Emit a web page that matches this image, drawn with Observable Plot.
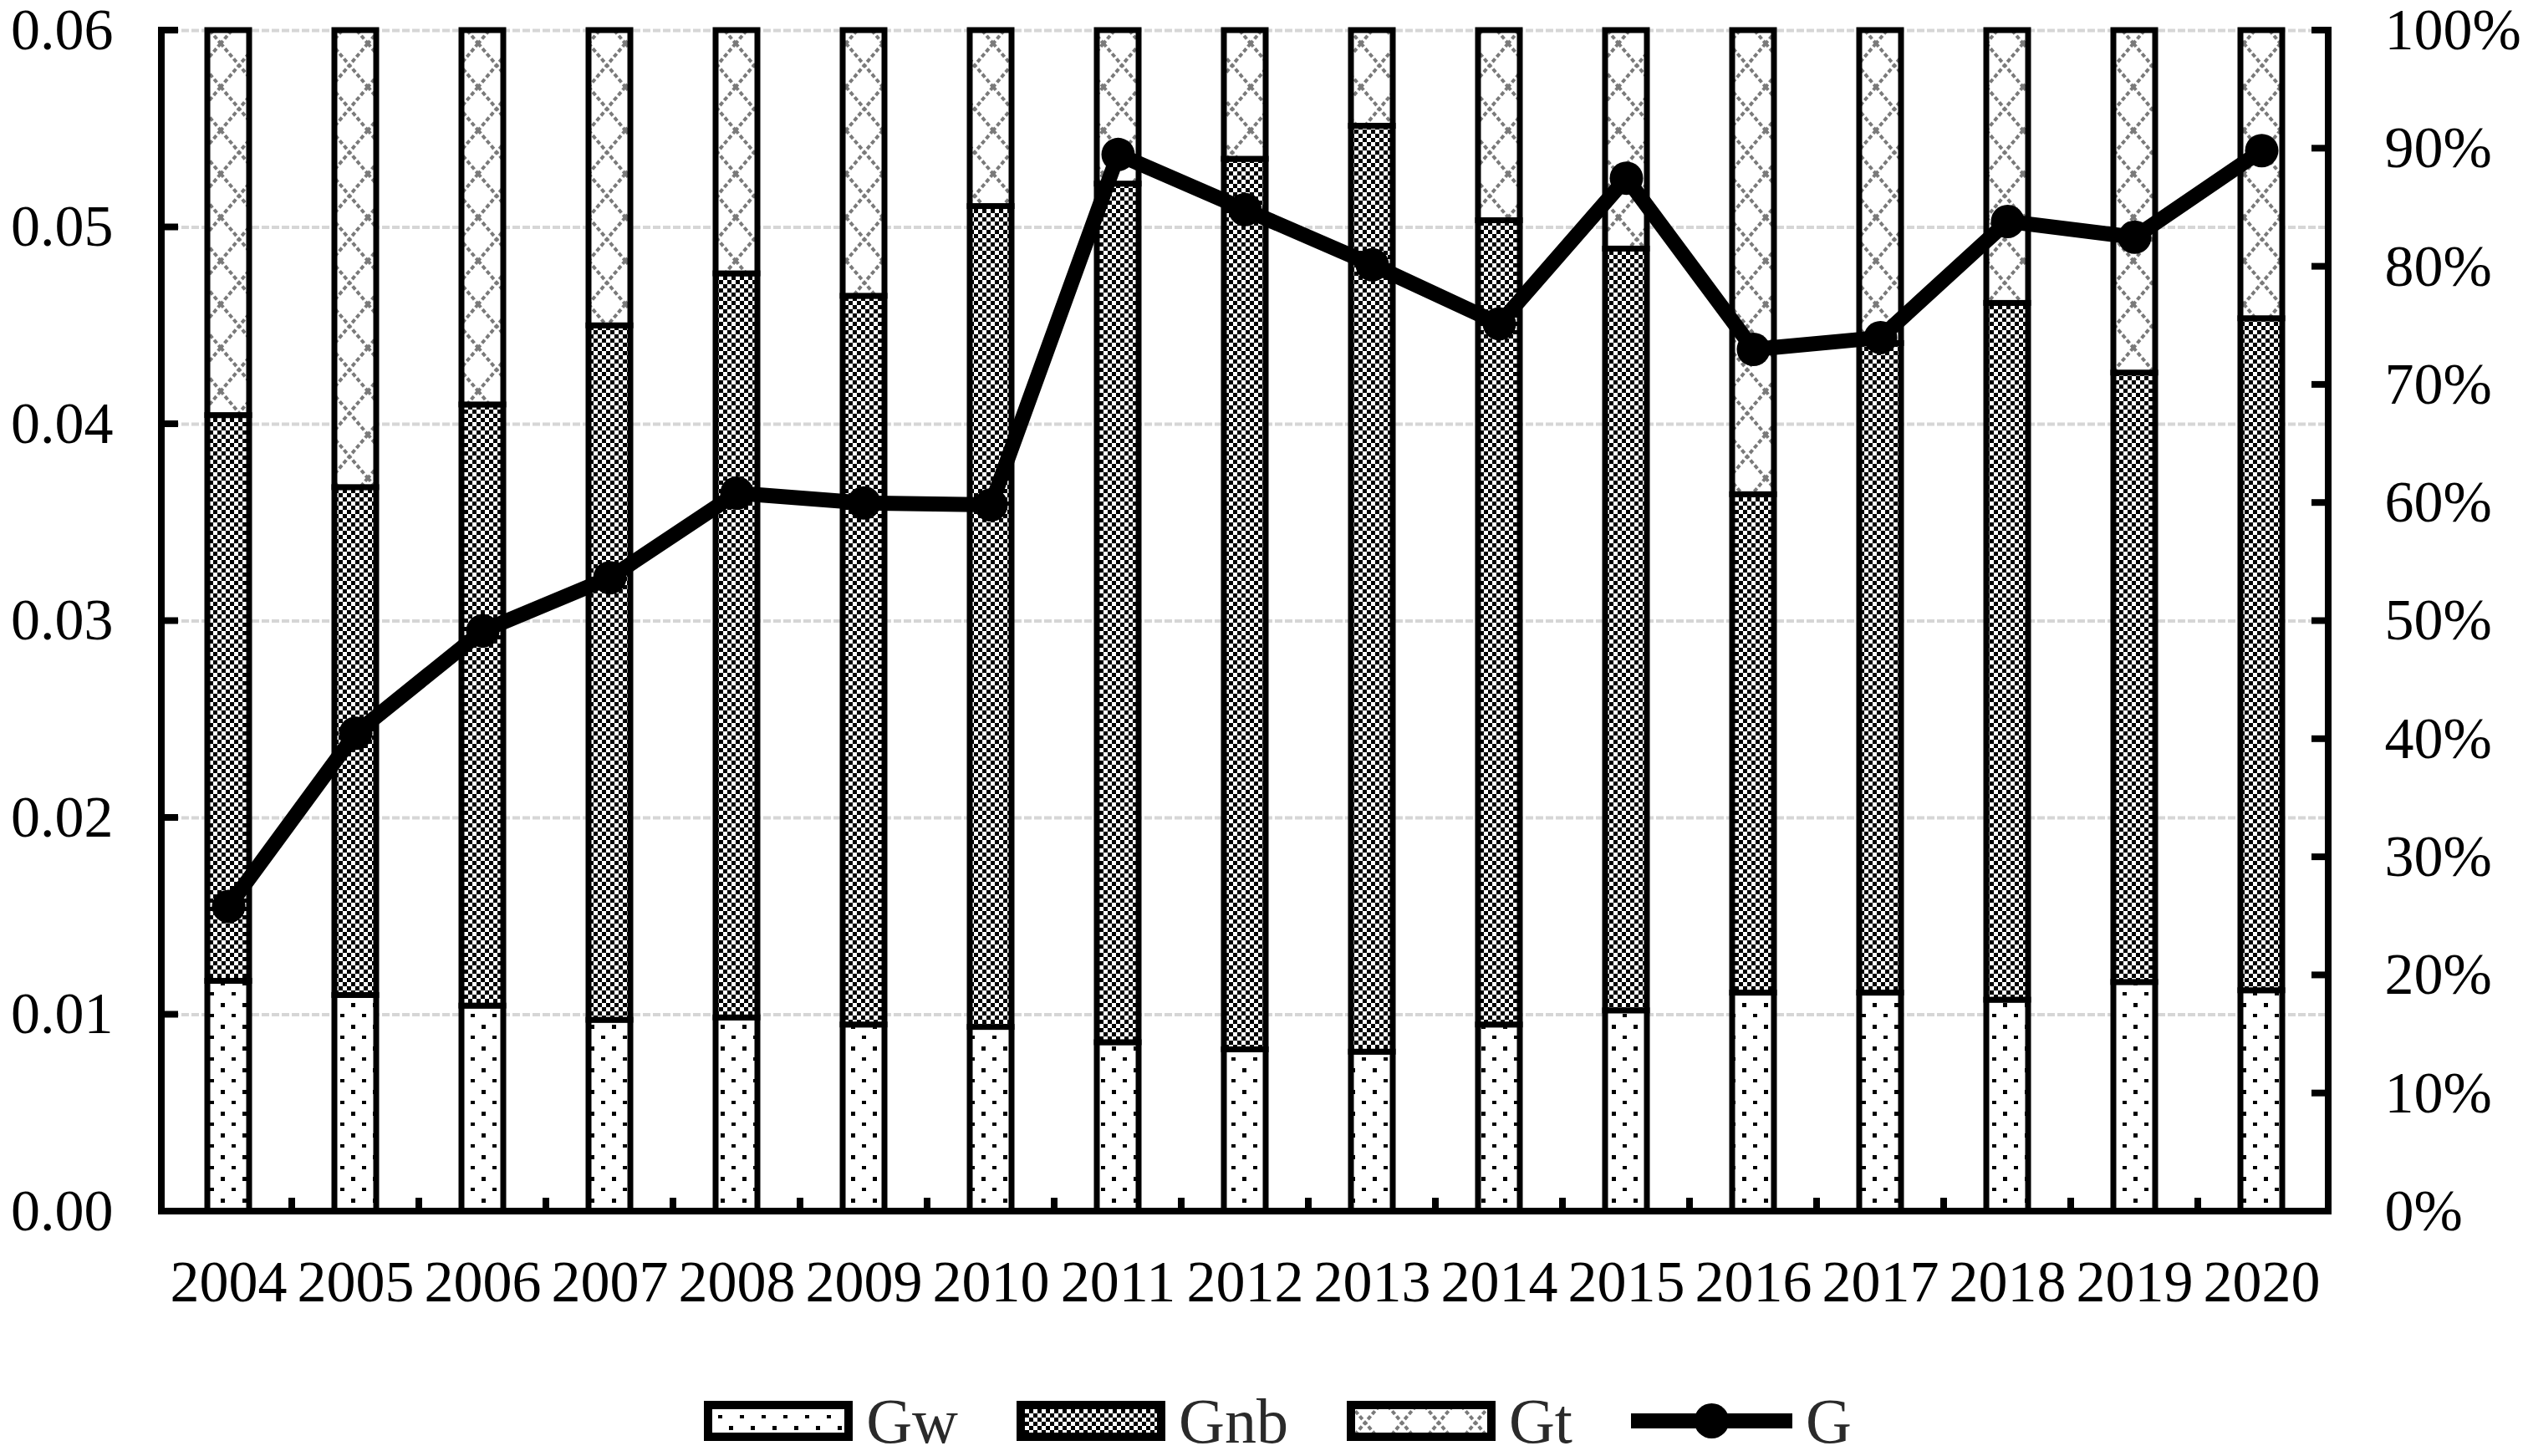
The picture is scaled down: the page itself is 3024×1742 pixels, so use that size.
<!DOCTYPE html>
<html>
<head>
<meta charset="utf-8">
<script src="https://cdn.jsdelivr.net/npm/d3@7"></script>
<script src="https://cdn.jsdelivr.net/npm/@observablehq/plot@0.6"></script>
<style>
  body { margin: 0; background: #fff; }
  #wrap { width: 3024px; height: 1742px; overflow: hidden; font-family: "Liberation Serif", "Times New Roman", serif; }
  #legend { display: flex; align-items: center; justify-content: center; height: 70px; margin-top: 55px; padding-left: 33px; box-sizing: border-box; gap: 70px; font-size: 76px; color: #2a2a2a; }
  .item { display: flex; align-items: center; gap: 16px; }
  .item span { line-height: 1; }
</style>
</head>
<body>
<div id="wrap"></div>
<script>
// ---- data ----
const years = ["2004","2005","2006","2007","2008","2009","2010","2011","2012","2013","2014","2015","2016","2017","2018","2019","2020"];
const GwShare  = [19.5,18.3,17.4,16.2,16.4,15.8,15.6,14.3,13.7,13.5,15.8,17.0,18.5,18.5,17.9,19.4,18.7];
const GnbShare = [47.9,43.0,50.9,58.8,63.0,61.7,69.5,72.7,75.4,78.4,68.1,64.5,42.2,55.0,59.0,51.6,56.9];
const GtShare  = [32.6,38.7,31.7,25.0,20.6,22.5,14.9,13.0,10.9, 8.1,16.1,18.5,39.3,26.5,23.1,29.0,24.4];
const G        = [0.0155,0.0243,0.0295,0.0322,0.0365,0.0360,0.0359,0.0537,0.0509,0.0481,0.0451,0.0525,0.0438,0.0444,0.0503,0.0495,0.0539];
const seriesNames = ["Gw","Gnb","Gt"];
const lineName = "G";
const leftTickLabels = ["0.00","0.01","0.02","0.03","0.04","0.05","0.06"];
const leftMax = 0.06;
const rightTickValues = [0,10,20,30,40,50,60,70,80,90,100];

// ---- derived tables ----
const shares = {Gw: GwShare, Gnb: GnbShare, Gt: GtShare};
const rows = years.flatMap((year, i) => seriesNames.map(s => ({year, series: s, value: shares[s][i]})));
const lineRows = years.map((year, i) => ({year, G: G[i]}));
const toPct = v => v / leftMax * 100;           // left axis value -> shared y scale (percent)
const leftTickVals = leftTickLabels.map(s => toPct(+s));

const patternDefs = `
<defs>
  <pattern id="pGw" width="26" height="26" patternUnits="userSpaceOnUse">
    <rect width="26" height="26" fill="#fff"/>
    <rect x="4" y="4" width="5" height="5" fill="#000"/>
    <rect x="17" y="17" width="5" height="4" fill="#000"/>
  </pattern>
  <pattern id="pGnb" width="10" height="10" patternUnits="userSpaceOnUse">
    <rect width="10" height="10" fill="#000"/>
    <rect x="0" y="0" width="5" height="5" fill="#fff"/>
    <rect x="5" y="5" width="5" height="5" fill="#fff"/>
  </pattern>
  <pattern id="pGt" width="44" height="52" patternUnits="userSpaceOnUse">
    <rect width="44" height="52" fill="#fff"/>
    <path d="M0,0L44,52M44,0L0,52" stroke="#7a7a7a" stroke-width="4" stroke-dasharray="5,3" fill="none"/>
  </pattern>
</defs>`;
const patternFor = {Gw: "url(#pGw)", Gnb: "url(#pGnb)", Gt: "url(#pGt)"};

function defsMark() {
  const g = d3.create("svg:g");
  g.html(patternDefs);
  return g.node();
}

function axisLines(index, scales, values, dims) {
  const {width, height, marginLeft, marginRight, marginTop, marginBottom} = dims;
  const x0 = marginLeft, x1 = width - marginRight, yb = height - marginBottom, yt = marginTop;
  const g = d3.create("svg:g").attr("fill", "none").attr("stroke", "#000").attr("stroke-width", 8).attr("stroke-linecap", "square");
  g.append("path").attr("d", `M${x0},${yt}V${yb}H${x1}V${yt}`);
  for (const v of leftTickVals) g.append("path").attr("d", `M${x0},${scales.y(v)}h16`);
  for (const v of rightTickValues) g.append("path").attr("d", `M${x1},${scales.y(v)}h-16`);
  years.slice(1).forEach(yr => g.append("path").attr("d", `M${scales.x(yr)},${yb}v-12`));
  return g.node();
}

const chart = Plot.plot({
  width: 3024,
  height: 1610,
  marginLeft: 193,
  marginRight: 239,
  marginTop: 36,
  marginBottom: 161,
  style: {fontFamily: "'Liberation Serif', 'Times New Roman', serif", background: "#fff", color: "#000"},
  x: {type: "band", domain: years, padding: 0, label: null},
  y: {domain: [0, 100], label: null},
  color: {type: "ordinal", domain: seriesNames, range: seriesNames.map(s => patternFor[s])},
  marks: [
    defsMark,
    Plot.gridY(leftTickVals, {stroke: "#d6d6d6", strokeOpacity: 1, strokeWidth: 4, strokeDasharray: "9,3"}),
    Plot.barY(rows, Plot.stackY({x: "year", y: "value", fill: "series", stroke: "#000", strokeWidth: 7, insetLeft: 51, insetRight: 51})),
    Plot.line(lineRows, {x: "year", y: d => toPct(d.G), stroke: "#000", strokeWidth: 18, strokeLinejoin: "round"}),
    Plot.dot(lineRows, {x: "year", y: d => toPct(d.G), r: 20, fill: "#000", stroke: "none"}),
    axisLines,
    Plot.axisY(leftTickVals, {anchor: "left", label: null, tickSize: 0, tickPadding: 58, fontSize: 70, fill: "#000",
      tickFormat: d => leftTickLabels[leftTickVals.indexOf(d)]}),
    Plot.axisY(rightTickValues, {anchor: "right", label: null, tickSize: 0, tickPadding: 67, fontSize: 70, fill: "#000",
      tickFormat: d => d + "%"}),
    Plot.axisX({label: null, tickSize: 0, tickPadding: 58, fontSize: 70, fill: "#000"})
  ]
});

const wrap = document.getElementById("wrap");
wrap.appendChild(chart);

// ---- legend ----
const legend = document.createElement("div");
legend.id = "legend";
function swatchSvg(fill) {
  return `<svg width="178" height="48" viewBox="0 0 178 48"><rect x="5" y="5" width="168" height="38" fill="${fill}" stroke="#000" stroke-width="10"/></svg>`;
}
function lineSvg() {
  return `<svg width="193" height="50" viewBox="0 0 193 50"><line x1="0" y1="25" x2="193" y2="25" stroke="#000" stroke-width="18"/><circle cx="96.5" cy="25" r="21" fill="#000"/></svg>`;
}
for (const s of seriesNames) {
  const it = document.createElement("div");
  it.className = "item";
  it.innerHTML = swatchSvg(patternFor[s]) + `<span>${s}</span>`;
  legend.appendChild(it);
}
{
  const it = document.createElement("div");
  it.className = "item";
  it.innerHTML = lineSvg() + `<span>${lineName}</span>`;
  legend.appendChild(it);
}
wrap.appendChild(legend);
</script>
</body>
</html>
